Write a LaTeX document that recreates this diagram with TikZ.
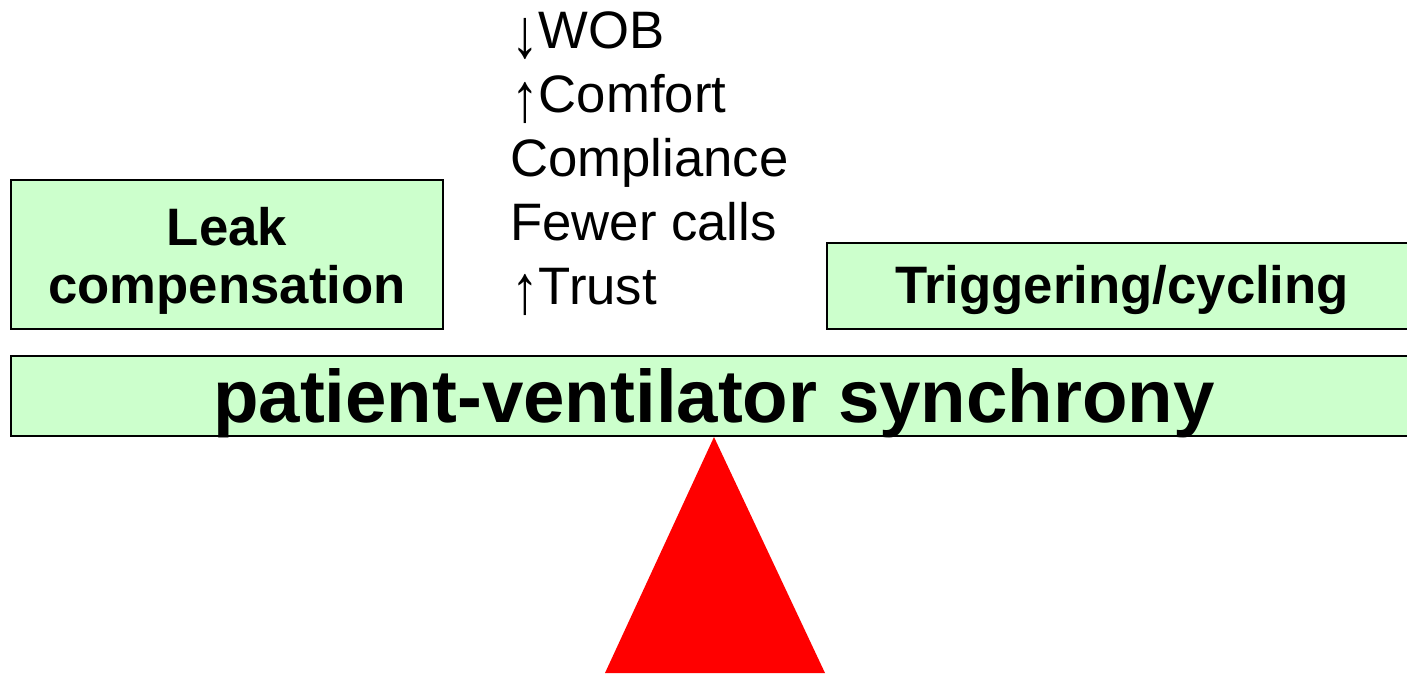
\documentclass[tikz,border=0pt]{standalone}
\usepackage{fontspec}
\setmainfont{Liberation Sans}
\definecolor{boxgreen}{HTML}{CCFFCC}
\definecolor{fulcrum}{HTML}{FF0000}
\newcommand{\tallarrow}[1]{\smash{\raisebox{-9pt}{\scalebox{1.05}[1.32]{#1}}}}
\begin{document}
\begin{tikzpicture}[x=1pt,y=-1pt,
  greenbox/.style={draw=black,line width=1.6pt,fill=boxgreen,inner sep=0pt,outer sep=0pt},
  boldlbl/.style={inner sep=0pt,anchor=base,font=\fontsize{52.7}{62}\selectfont\bfseries},
  listlbl/.style={inner sep=0pt,anchor=base west,font=\fontsize{52.7}{63}\selectfont},
  biglbl/.style={inner sep=0pt,anchor=base,font=\fontsize{74.5}{80}\selectfont\bfseries}]
\useasboundingbox (0,0) rectangle (1407,673);
\fill[white] (0,0) rectangle (1407,673);
% fulcrum
\fill[fulcrum] (714,437) -- (605,673) -- (825,673) -- cycle;
% boxes
\node[greenbox,minimum width=432pt,minimum height=149pt] (leakbox) at (227,254.5) {};
\node[greenbox,minimum width=582pt,minimum height=86pt] (trigbox) at (1118,286) {};
\node[greenbox,minimum width=1398pt,minimum height=80pt] (bar) at (710,396) {};
% texts
\node[boldlbl] (leak1) at (227,245) {Leak};
\node[boldlbl] (leak2) at (227,303) {compensation};
\node[boldlbl] (trig) at (1122,303) {Triggering/cycling};
\node[biglbl] (pvs) at (714,422) {patient-ventilator synchrony};
\node[listlbl] (l1) at (511,48) {\tallarrow{↓}WOB};
\node[listlbl] (l2) at (511,112) {\tallarrow{↑}Comfort};
\node[listlbl] (l3) at (510,176) {Compliance};
\node[listlbl] (l4) at (510,240) {Fewer calls};
\node[listlbl] (l5) at (511,304) {\tallarrow{↑}Trust};
\end{tikzpicture}
\end{document}
